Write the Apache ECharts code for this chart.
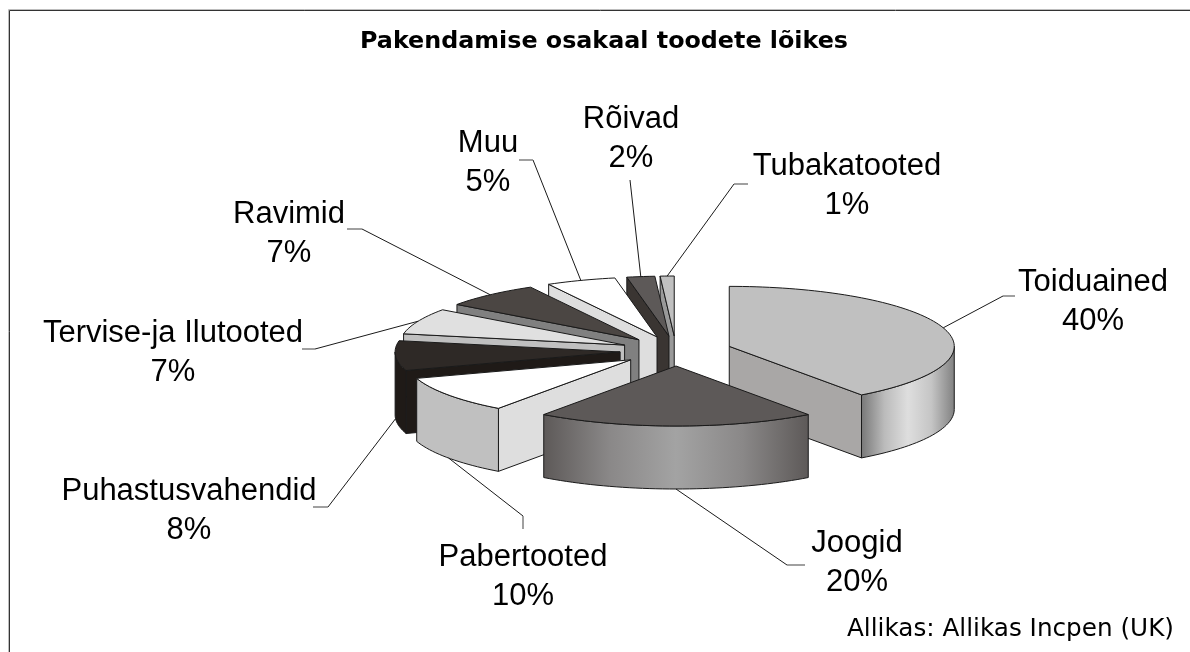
<!DOCTYPE html>
<html>
<head>
<meta charset="utf-8">
<style>
  html, body { margin: 0; padding: 0; background: #fff; }
  #chart { width: 1190px; height: 652px; }
</style>
<script src="https://cdn.jsdelivr.net/npm/echarts@6/dist/echarts.min.js"></script>
</head>
<body>
<div id="chart"></div>
<script>
const categories = ['Toiduained', 'Joogid', 'Pabertooted', 'Puhastusvahendid', 'Tervise-ja Ilutooted', 'Ravimid', 'Muu', 'Rõivad', 'Tubakatooted']
const shares = [40, 20, 10, 8, 7, 7, 5, 2, 1]

const topColors = ['#c0c0c0', '#5d5958', '#ffffff', '#2e2926', '#e0e0e0', '#4b4643', '#ffffff', '#5d5958', '#c0c0c0']
const faceColors = ['#a9a7a6', '#5d5958', '#dedede', '#1f1a17', '#c0c0c0', '#808080', '#dedede', '#3a3532', '#999999']
const rimColors = [
  ['#777777', '#bbbbbb', '#dedede', '#c5c5c5', '#808080'],
  ['#5d5958', '#8a8888', '#a3a3a3', '#8a8888', '#5d5958'],
  ['#c0c0c0'], ['#1f1a17'], ['#c0c0c0'], ['#808080'], ['#dedede'], ['#3a3532'], ['#999999'],
]
// where each leader line bends, and where its label sits
const labelElbows = [[1003, 296], [787, 565], [523, 516], [328, 507], [315, 349], [362, 229], [533, 160], [630, 180], [734, 184]]
const labelEnds = [[1015, 296], [805, 565], [523, 529], [313, 507], [302, 349], [347, 229], [519, 160], [630, 180], [748, 184]]
const labelCenters = [[1093, 302], [857, 563], [523, 577], [189, 511], [173, 353], [289, 234], [488, 163], [631, 139], [847, 186]]

// projected pie: flat ellipse, each slice pulled out along its middle angle
const CX = 676
const CY = 351
const RX = 225
const RY = 60
const PULL_X = 56
const PULL_Y = 15
const DEPTH = 63
const LINE = '#1a1a1a'
const LEADER_TAIL = '#808080'

const total = shares.reduce((a, b) => a + b, 0)
const startShares = shares.map((_, i) => shares.slice(0, i).reduce((a, b) => a + b, 0))

function rimPoint(apex, ang, drop) {
  return [apex[0] + RX * Math.sin(ang), apex[1] - RY * Math.cos(ang) + drop]
}

function arcPoints(apex, a0, a1, drop) {
  const steps = Math.max(2, Math.ceil((a1 - a0) / 0.03))
  const pts = []
  for (let k = 0; k <= steps; k++) pts.push(rimPoint(apex, a0 + (a1 - a0) * k / steps, drop))
  return pts
}

function face(points, fill, z2) {
  return {
    type: 'polygon',
    z2,
    shape: { points },
    style: { fill, stroke: LINE, lineWidth: 1, lineJoin: 'round' },
  }
}

function renderSlice(params, api) {
  const i = params.dataIndex
  const a0 = (api.value(1) / total) * Math.PI * 2
  const a1 = ((api.value(1) + api.value(0)) / total) * Math.PI * 2
  const mid = (a0 + a1) / 2
  const apex = [CX + PULL_X * Math.sin(mid), CY - PULL_Y * Math.cos(mid)]
  const base = Math.round(apex[1] * 10)
  const children = []

  // cut faces: only the ones turned towards the viewer
  if (Math.sin(a1) > 0.001) {
    const p = rimPoint(apex, a1, 0)
    children.push(face([apex, p, [p[0], p[1] + DEPTH], [apex[0], apex[1] + DEPTH]], faceColors[i], base))
  }
  if (Math.sin(a0) < -0.001) {
    const p = rimPoint(apex, a0, 0)
    children.push(face([apex, p, [p[0], p[1] + DEPTH], [apex[0], apex[1] + DEPTH]], faceColors[i], base))
  }

  // outer wall, front half only
  const w0 = Math.max(a0, Math.PI / 2)
  const w1 = Math.min(a1, Math.PI * 1.5)
  if (w1 > w0) {
    const upper = arcPoints(apex, w0, w1, 0)
    const lower = arcPoints(apex, w0, w1, DEPTH).reverse()
    const stops = rimColors[i]
    const fill = stops.length === 1 ? stops[0] : {
      type: 'linear', x: 0, y: 0, x2: 1, y2: 0,
      colorStops: stops.map((color, k) => ({ offset: k / (stops.length - 1), color })),
    }
    children.push(face(upper.concat(lower), fill, base + 1))
  }

  children.push(face([apex].concat(arcPoints(apex, a0, a1, 0)), topColors[i], base + 2))

  // leader line starts on the rim, at the foot of the wall for front slices
  const from = rimPoint(apex, mid, Math.cos(mid) < 0 ? DEPTH : 0)
  children.push({
    type: 'polyline',
    z2: 20000,
    shape: { points: [from, labelElbows[i]] },
    style: { fill: null, stroke: LINE, lineWidth: 1 },
  })
  children.push({
    type: 'polyline',
    z2: 20000,
    shape: { points: [labelElbows[i], labelEnds[i]] },
    style: { fill: null, stroke: LEADER_TAIL, lineWidth: 1.5 },
  })
  children.push({
    type: 'text',
    z2: 20001,
    style: {
      x: labelCenters[i][0],
      y: labelCenters[i][1],
      text: categories[i] + '\n' + api.value(0) + '%',
      align: 'center',
      verticalAlign: 'middle',
      fill: '#000',
      font: '31px "Liberation Sans", Arial, sans-serif',
      lineHeight: 39,
    },
  })
  return { type: 'group', children }
}

const chart = echarts.init(document.getElementById('chart'), null, { renderer: 'canvas' })
chart.setOption({
  animation: false,
  backgroundColor: '#fff',
  title: {
    text: 'Pakendamise osakaal toodete lõikes',
    left: 599,
    top: 25,
    textAlign: 'center',
    textStyle: { fontFamily: '"DejaVu Sans", Verdana, sans-serif', fontWeight: 'bold', fontSize: 23.8, color: '#000' },
  },
  graphic: [
    {
      type: 'polyline',
      shape: { points: [[8.5, 660], [8.5, 9.5], [1195, 9.5]] },
      style: { fill: null, stroke: '#bdbdbd', lineWidth: 1 },
      silent: true,
    },
    {
      type: 'polyline',
      shape: { points: [[9.5, 660], [9.5, 10.5], [1195, 10.5]] },
      style: { fill: null, stroke: '#333', lineWidth: 1 },
      silent: true,
    },
    {
      type: 'text',
      right: 16,
      top: 617,
      style: {
        text: 'Allikas: Allikas Incpen (UK)',
        font: '24.7px "DejaVu Sans", Verdana, sans-serif',
        fill: '#000',
      },
    },
  ],
  series: [
    {
      type: 'custom',
      coordinateSystem: 'none',
      renderItem: renderSlice,
      data: shares.map((v, i) => [v, startShares[i]]),
    },
  ],
})
window.addEventListener('resize', () => chart.resize())
</script>
</body>
</html>
